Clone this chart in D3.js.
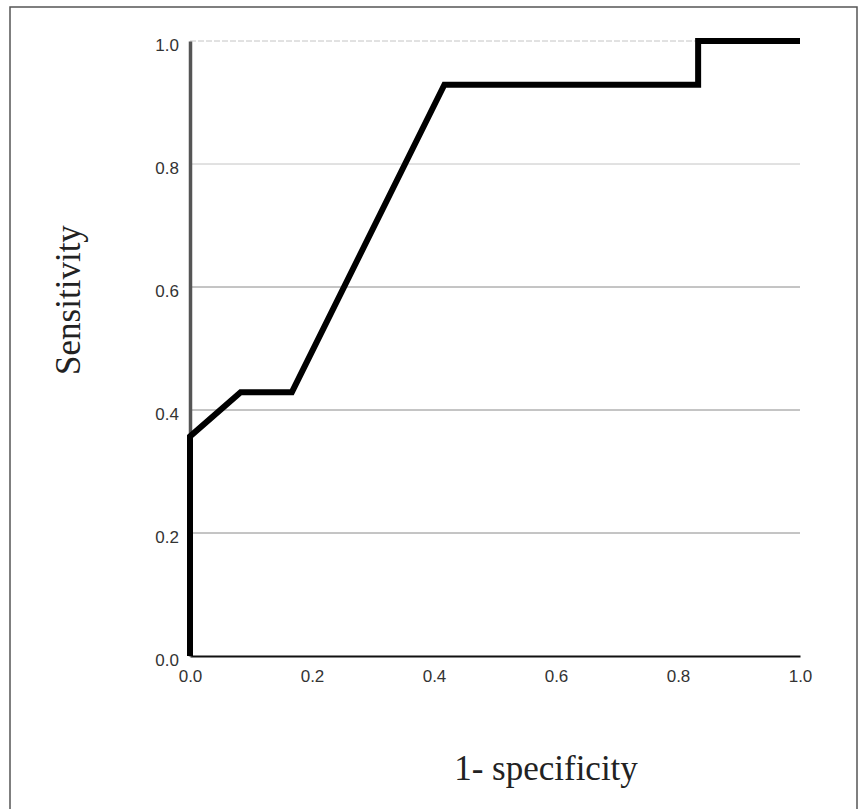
<!DOCTYPE html>
<html>
<head>
<meta charset="utf-8">
<script src="https://cdn.jsdelivr.net/npm/d3@7"></script>
<style>
  body { margin: 0; background: #fff; }
  .tick text { font-family: "Liberation Sans", Arial, sans-serif; font-size: 17px; fill: #333; }
</style>
</head>
<body>
<div id="chart"></div>
<script>
// ROC curve points
var fpr = [0, 0, 0.083, 0.167, 0.417, 0.833, 0.833, 1.0];
var tpr = [0, 0.357, 0.429, 0.429, 0.929, 0.929, 1.0, 1.0];
var xTicks = [0, 0.2, 0.4, 0.6, 0.8, 1.0];
var yTicks = [0, 0.2, 0.4, 0.6, 0.8, 1.0];

var svgWidth = 859;
var svgHeight = 809;

var margin = {
  top: 41,
  right: 59,
  bottom: 153,
  left: 190
};

var width = svgWidth - margin.left - margin.right;
var height = svgHeight - margin.top - margin.bottom;

var svg = d3.select("#chart")
  .append("svg")
  .attr("width", svgWidth)
  .attr("height", svgHeight);

// frame round the whole figure
svg.append("rect")
  .attr("x", 10)
  .attr("y", 7)
  .attr("width", 847)
  .attr("height", 820)
  .attr("fill", "none")
  .attr("stroke", "#555")
  .attr("stroke-width", 1.5);

var chartGroup = svg.append("g")
  .attr("transform", `translate(${margin.left}, ${margin.top})`);

var xScale = d3.scaleLinear()
  .domain([0, 1])
  .range([0, width]);

var yScale = d3.scaleLinear()
  .domain([0, 1])
  .range([height, 0]);

// gridlines
chartGroup.selectAll(".grid")
  .data(yTicks.filter(d => d > 0))
  .enter()
  .append("line")
  .attr("class", "grid")
  .attr("x1", 0)
  .attr("x2", width)
  .attr("y1", d => yScale(d))
  .attr("y2", d => yScale(d))
  .attr("stroke", d => d >= 0.8 ? "#c4c4c4" : "#8a8a8a")
  .attr("stroke-dasharray", d => d == 1 ? "6,2" : null)
  .attr("stroke-width", 1);

var bottomAxis = d3.axisBottom(xScale)
  .tickValues(xTicks)
  .tickFormat(d3.format(".1f"))
  .tickSize(0)
  .tickPadding(14);

var leftAxis = d3.axisLeft(yScale)
  .tickValues(yTicks)
  .tickFormat(d3.format(".1f"))
  .tickSize(0)
  .tickPadding(11);

var xAxisG = chartGroup.append("g")
  .attr("transform", `translate(0, ${height})`)
  .call(bottomAxis);
xAxisG.select(".domain").attr("stroke", "#111").attr("stroke-width", 2);

var yAxisG = chartGroup.append("g")
  .call(leftAxis);
yAxisG.select(".domain").attr("stroke", "#555").attr("stroke-width", 3.5);
yAxisG.selectAll(".tick text").attr("dy", "0.55em");

// ROC line
var line = d3.line()
  .x((d, i) => xScale(fpr[i]))
  .y((d, i) => yScale(tpr[i]));

chartGroup.append("path")
  .datum(fpr)
  .attr("d", line)
  .attr("fill", "none")
  .attr("stroke", "#000")
  .attr("stroke-width", 6)
  .attr("stroke-linejoin", "miter");

// axis titles
chartGroup.append("text")
  .attr("transform", "rotate(-90)")
  .attr("x", 0 - 259)
  .attr("y", 0 - margin.left + 80)
  .style("text-anchor", "middle")
  .style("font-family", "'Liberation Serif', 'Times New Roman', serif")
  .style("font-size", "35px")
  .attr("fill", "#222")
  .text("Sensitivity");

chartGroup.append("text")
  .attr("x", 356)
  .attr("y", height + 124)
  .style("text-anchor", "middle")
  .style("font-family", "'Liberation Serif', 'Times New Roman', serif")
  .style("font-size", "35px")
  .attr("fill", "#222")
  .text("1- specificity");
</script>
</body>
</html>
